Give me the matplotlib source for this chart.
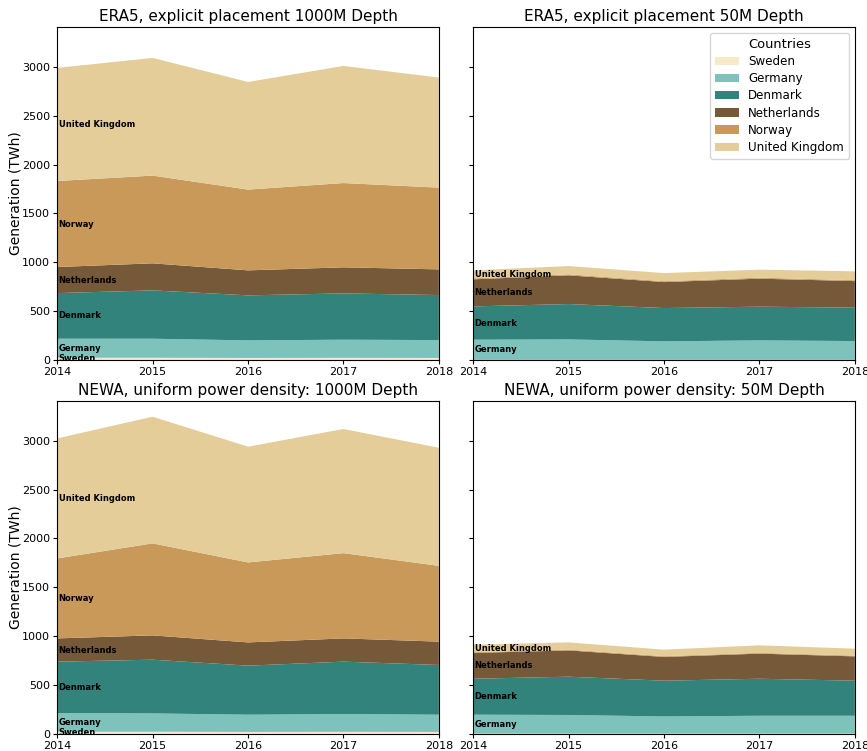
import matplotlib
matplotlib.use("Agg")
import matplotlib.pyplot as plt

years = [2014, 2015, 2016, 2017, 2018]
countries = ["Sweden", "Germany", "Denmark", "Netherlands", "Norway", "United Kingdom"]
colors = ["#f6eac8", "#7dc3bc", "#31837b", "#765938", "#c99959", "#e4cd98"]

# Annual generation per country (TWh), stacked in the order of `countries`
era5_1000 = {
    "Sweden":         [22, 22, 20, 21, 20],
    "Germany":        [195, 195, 180, 186, 183],
    "Denmark":        [467, 495, 461, 474, 461],
    "Netherlands":    [267, 277, 256, 267, 263],
    "Norway":         [881, 898, 827, 863, 837],
    "United Kingdom": [1158, 1205, 1102, 1199, 1127],
}
era5_50 = {
    "Sweden":         [1, 1, 1, 1, 1],
    "Germany":        [206, 209, 189, 199, 192],
    "Denmark":        [341, 362, 341, 345, 342],
    "Netherlands":    [277, 294, 266, 287, 272],
    "Norway":         [10, 10, 9, 10, 9],
    "United Kingdom": [82, 85, 83, 82, 91],
}
newa_1000 = {
    "Sweden":         [20, 20, 18, 19, 18],
    "Germany":        [192, 188, 177, 183, 177],
    "Denmark":        [526, 550, 502, 536, 509],
    "Netherlands":    [238, 249, 238, 238, 239],
    "Norway":         [819, 942, 819, 873, 776],
    "United Kingdom": [1229, 1297, 1185, 1271, 1209],
}
newa_50 = {
    "Sweden":         [1, 1, 1, 1, 1],
    "Germany":        [194, 191, 176, 183, 183],
    "Denmark":        [368, 392, 366, 379, 359],
    "Netherlands":    [264, 269, 243, 257, 249],
    "Norway":         [8, 8, 8, 8, 8],
    "United Kingdom": [77, 74, 67, 77, 71],
}

panels = [
    ("ERA5, explicit placement 1000M Depth", era5_1000),
    ("ERA5, explicit placement 50M Depth", era5_50),
    ("NEWA, uniform power density: 1000M Depth", newa_1000),
    ("NEWA, uniform power density: 50M Depth", newa_50),
]

label_min = 15  # only name bands thick enough to hold text

fig, axes = plt.subplots(2, 2, figsize=(8.67, 7.51), dpi=100, sharey=True)
fig.subplots_adjust(left=0.066, right=0.986, bottom=0.023, top=0.964,
                    wspace=0.09, hspace=0.123)

for ax, (title, data) in zip(axes.flat, panels):
    series = [data[c] for c in countries]
    ax.stackplot(years, *series, labels=countries, colors=colors)
    ax.set_title(title, fontsize=11, pad=4)
    ax.set_xlim(years[0], years[-1])
    ax.set_xticks(years)
    ax.tick_params(labelsize=8, length=3, pad=2)
    base = 0
    for c in countries:
        v = data[c][0]
        if v > label_min:
            ax.text(years[0] + 0.015, base + v / 2, c, fontsize=6,
                    fontweight="bold", ha="left", va="center")
        base += v

for ax in axes[:, 0]:
    ax.set_ylabel("Generation (TWh)", fontsize=10, labelpad=0)

leg = axes[0, 1].legend(title="Countries", loc="upper right",
                        fontsize=8.6, title_fontsize=9.4, labelspacing=0.35)

fig.savefig("out.png", dpi=100)
